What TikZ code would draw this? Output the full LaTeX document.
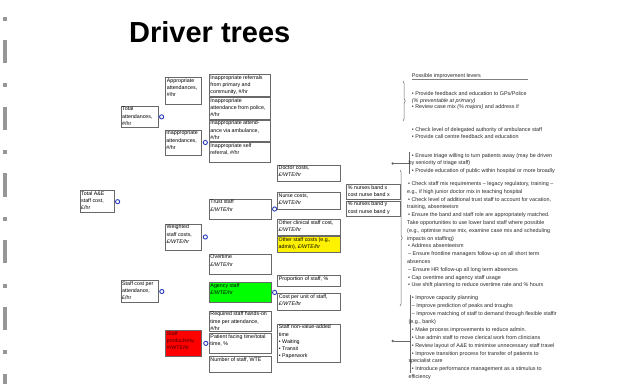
\documentclass[tikz,border=0pt]{standalone}
\usepackage{fontspec}
\setmainfont{Liberation Sans}
\usetikzlibrary{fit,calc,decorations.pathreplacing}
\pgfdeclarelayer{bg}
\pgfsetlayers{bg,main}
\definecolor{bord}{RGB}{105,105,105}
\definecolor{conn}{RGB}{105,105,105}
\definecolor{circ}{RGB}{40,60,190}
\definecolor{mark}{RGB}{150,150,150}
\definecolor{dred}{RGB}{70,0,0}
\definecolor{levtxt}{RGB}{40,40,40}
\newcommand\uw{\textit{£/WTE/hr}}
\newcommand\tb[8]{%
  \node[box, fill=#6, fit={(#2,#3) (#4,#5)}] (#1) {};
  \node[btxt, text=#7] (#1t) at ($(#1.north west)+(1.3,1.2)$) {#8};}
\newcommand\lv[4]{\node[lev] (#1) at (#2,#3) {#4};}
\tikzset{
  box/.style={draw=bord, line width=0.65pt, inner sep=0pt},
  btxt/.style={inner sep=0pt, anchor=north west, align=left, font=\fontsize{5.3}{7.1}\selectfont},
  cn/.style={draw=conn, line width=0.55pt},
  jn/.style={circle, draw=circ, line width=0.9pt, fill=white, minimum size=4.2pt, inner sep=0pt},
  lev/.style={inner sep=0pt, anchor=west, text=levtxt, font=\fontsize{5.4}{6}\selectfont, text height=3.8pt, text depth=1pt},
  mk/.style={fill=mark, draw=none},
  dotg/.style={circle, fill=conn, minimum size=2.8pt, inner sep=0pt},
  brc/.style={cn, decorate, decoration={brace, amplitude=2.2pt}},
}
\begin{document}
\begin{tikzpicture}[x=1pt,y=-1pt]
\useasboundingbox (0,0) rectangle (618,383);
\fill[white] (0,0) rectangle (618,383);
% slide bullets at left
\foreach \k in {0,...,5} {
  \fill[mk] (3.3,{16.7+66.7*\k}) rectangle (7.3,{20.7+66.7*\k});
  \fill[mk] (3.3,{40+66.7*\k}) rectangle (7.3,{63.3+66.7*\k});
}
% title
\node[anchor=base west, inner sep=0pt, font=\fontsize{29}{30}\selectfont\bfseries] (title) at (129,42.5) {Driver trees};
% boxes
\tb{root}{80}{190.7}{114}{212.7}{white}{black}{Total A\&E\\staff cost,\\£/hr}
\tb{tat}{121}{106}{158.3}{127.7}{white}{black}{Total\\attendances,\\\#/hr}
\tb{scp}{121}{280.7}{158.5}{302.3}{white}{black}{Staff cost per\\attendance,\\£/hr}
\tb{app}{165.7}{77.3}{201.7}{104.3}{white}{black}{Appropriate\\attendances,\\\#/hr}
\tb{inapp}{165.3}{130}{201.7}{155}{white}{black}{Inappropriate\\attendances,\\\#/hr}
\tb{wsc}{165.5}{224}{201.7}{250}{white}{black}{Weighted\\staff costs,\\\uw}
\tb{prod}{165.7}{330.7}{201.7}{356}{red}{dred}{Staff\\productivity,\\\#/WTE/hr}
\tb{ref}{209.3}{74.7}{270.7}{96.7}{white}{black}{Inappropriate referrals\\from primary and\\community, \#/hr}
\tb{pol}{209.3}{97.3}{270.7}{119}{white}{black}{Inappropriate\\attendance from police,\\\#/hr}
\tb{amb}{209.3}{120}{270.7}{141.7}{white}{black}{Inappropriate attend-\\ance via ambulance,\\\#/hr}
\tb{self}{209.3}{142.7}{270.7}{162.7}{white}{black}{Inappropriate self\\referral, \#/hr}
\tb{trust}{209.3}{199}{271}{219}{white}{black}{Trust staff\\\uw}
\tb{ovt}{209.3}{254}{271}{274}{white}{black}{Overtime\\\uw}
\tb{agy}{209.3}{282.3}{271}{302.5}{green}{black}{Agency staff\\\uw}
\tb{req}{209.3}{311}{271}{331}{white}{black}{Required staff hands-on\\time per attendance,\\\#/hr}
\tb{pat}{209.3}{333.3}{271}{353.3}{white}{black}{Patient facing time/total\\time, \%}
\tb{num}{209.3}{356.7}{271}{372.3}{white}{black}{Number of staff, WTE}
\tb{doc}{277.5}{165}{340}{181}{white}{black}{Doctor costs,\\\uw}
\tb{nur}{277.5}{192.7}{340}{209.3}{white}{black}{Nurse costs,\\\uw}
\tb{ocl}{277.5}{219.3}{340}{235}{white}{black}{Other clinical staff cost,\\\uw}
\tb{ost}{277.5}{236.7}{340}{252.3}{yellow}{black}{Other staff costs (e.g.,\\admin), \uw}
\tb{prop}{277.7}{275.7}{340}{286.7}{white}{black}{Proportion of staff, \%}
\tb{cpu}{277.7}{293.3}{340}{310}{white}{black}{Cost per unit of staff,\\\uw}
\tb{nva}{277.7}{324}{340}{362.7}{white}{black}{Staff non-value-added\\time\\• Waiting\\• Transit\\• Paperwork}
\tb{bx}{346.7}{184.3}{400.7}{199.3}{white}{black}{\% nurses band x\\cost nurse band x}
\tb{by}{346.7}{201}{400.7}{216}{white}{black}{\% nurses band y\\cost nurse band y}
% junctions
\node[jn] (j0) at ($(root.east)+(3.3,0)$) {};
\node[jn] (j1) at ($(tat.east)+(3,0)$) {};
\node[jn] (j2) at ($(inapp.east)+(3.3,0)$) {};
\node[jn] (j3) at ($(scp.east)+(3,0)$) {};
\node[jn] (j4) at ($(wsc.east)+(3.3,0)$) {};
\node[jn] (j5) at ($(prod.east)+(3.8,0)$) {};
\node[jn] (j6) at ($(trust.east)+(3.3,0)$) {};
\node[jn] (j7) at ($(agy.east)+(3.3,0)$) {};
\coordinate (db) at ($(doc.east)+(3,0)$);
\coordinate (nb) at ($(nur.east)+(3,0)$);
\begin{pgfonlayer}{bg}
  \draw[cn] (root.east) -- (j0);
  \draw[cn] (j0 |- tat.west) -- (j0 |- scp.west);
  \foreach \c in {tat,scp} \draw[cn] (j0 |- \c.west) -- (\c.west);
  \draw[cn] (tat.east) -- (j1);
  \draw[cn] (j1 |- app.west) -- (j1 |- inapp.west);
  \foreach \c in {app,inapp} \draw[cn] (j1 |- \c.west) -- (\c.west);
  \draw[cn] (inapp.east) -- (j2);
  \draw[cn] (j2 |- ref.west) -- (j2 |- self.west);
  \foreach \c in {ref,pol,amb,self} \draw[cn] (j2 |- \c.west) -- (\c.west);
  \draw[cn] (scp.east) -- (j3);
  \draw[cn] (j3 |- wsc.west) -- (j3 |- prod.west);
  \foreach \c in {wsc,prod} \draw[cn] (j3 |- \c.west) -- (\c.west);
  \draw[cn] (wsc.east) -- (j4);
  \draw[cn] (j4 |- trust.west) -- (j4 |- agy.west);
  \foreach \c in {trust,ovt,agy} \draw[cn] (j4 |- \c.west) -- (\c.west);
  \draw[cn] (prod.east) -- (j5);
  \draw[cn] (j5 |- req.west) -- (j5 |- num.west);
  \foreach \c in {req,pat,num} \draw[cn] (j5 |- \c.west) -- (\c.west);
  \draw[cn] (trust.east) -- (j6);
  \draw[cn] (j6 |- doc.west) -- (j6 |- ost.west);
  \foreach \c in {doc,nur,ocl,ost} \draw[cn] (j6 |- \c.west) -- (\c.west);
  \draw[cn] (agy.east) -- (j7);
  \draw[cn] (j7 |- prop.west) -- (j7 |- cpu.west);
  \foreach \c in {prop,cpu} \draw[cn] (j7 |- \c.west) -- (\c.west);
  % doctor bracket with dotted leaders
  \draw[cn] (doc.east) -- (db);
  \draw[cn] ($(db)+(3,-4.5)$) -- ($(db)+(0,-4.5)$) -- ($(db)+(0,6.5)$) -- ($(db)+(3,6.5)$);
  \draw[draw=gray, line width=0.5pt, dash pattern=on 0.6pt off 1.4pt] ($(db)+(5,-4.5)$) -- ++(19,0);
  \draw[draw=gray, line width=0.5pt, dash pattern=on 0.6pt off 1.4pt] ($(db)+(5,6.5)$) -- ++(19,0);
  % nurse bracket
  \draw[cn] (nur.east) -- (nb);
  \draw[cn] (nb |- bx.west) -- (nb |- by.west);
  \foreach \c in {bx,by} \draw[cn] (nb |- \c.west) -- (\c.west);
  % patient facing to non-value-added
  \draw[cn] (pat.east) -- (nva.west);
\end{pgfonlayer}
% improvement levers
\lv{hdr}{411.7}{76}{Possible improvement levers}
\draw[draw=gray, line width=0.8pt] (hdr.south west) ++(0,1.2) -- ++(116.5,0);
\draw[brc] (403,81) -- (403,121);
\lv{a1}{411.7}{94}{• Provide feedback and education to GPs/Police}
\lv{a2}{411.7}{101}{\textit{(\% preventable at primary)}}
\lv{a3}{411.7}{107.5}{• Review case mix \textit{(\% majors)} and address if}
\lv{b1}{411.7}{130.5}{• Check level of delegated authority of ambulance staff}
\lv{b2}{411.7}{137.5}{• Provide call centre feedback and education}
\node[dotg] (d1) at (392.7,163.5) {};
\coordinate (k1) at (409.5,163.5);
\draw[cn] (d1) -- (k1);
\draw[cn] (k1 |- 0,152) -- (k1 |- 0,174);
\lv{c1}{411.7}{156}{• Ensure triage willing to turn patients away (may be driven}
\lv{c2}{408.3}{163.5}{by seniority of triage staff)}
\lv{c3}{411.7}{171}{• Provide education of public within hospital or more broadly}
\draw[brc] (400,170) -- (400,306);
\lv{e1}{408}{184}{• Check staff mix requirements – legacy regulatory, training –}
\lv{e2}{407}{191.8}{e.g., if high junior doctor mix in teaching hospital}
\lv{e3}{408}{199.6}{• Check level of additional trust staff to account for vacation,}
\lv{e4}{407}{207.4}{training, absenteeism}
\lv{e5}{408}{215.2}{• Ensure the band and staff role are appropriately matched.}
\lv{e6}{407}{223}{Take opportunities to use lower band staff where possible}
\lv{e7}{407}{230.8}{(e.g., optimise nurse mix, examine case mix and scheduling}
\lv{e8}{407}{238.6}{impacts on staffing)}
\lv{e9}{408}{246.4}{• Address absenteeism}
\lv{e10}{408}{254.2}{– Ensure frontline managers follow-up on all short term}
\lv{e11}{407}{262}{absences}
\lv{e12}{408}{269.8}{– Ensure HR follow-up all long term absences}
\lv{e13}{408}{277.6}{• Cap overtime and agency staff usage}
\lv{e14}{408}{285.4}{• Use shift planning to reduce overtime rate and \% hours}
\node[dotg] (d2) at (392.7,341) {};
\coordinate (k2) at (410,341);
\draw[cn] (d2) -- (k2);
\draw[cn] (k2 |- 0,295) -- (k2 |- 0,373);
\lv{f1}{411.7}{298.3}{• Improve capacity planning}
\lv{f2}{411.7}{306.2}{– Improve prediction of peaks and troughs}
\lv{f3}{411.7}{314.1}{– Improve matching of staff to demand through flexible staffir}
\lv{f4}{408.3}{322}{(e.g., bank)}
\lv{f5}{411.7}{329.9}{• Make process improvements to reduce admin.}
\lv{f6}{411.7}{337.8}{• Use admin staff to move clerical work from clinicians}
\lv{f7}{411.7}{345.7}{• Review layout of A\&E to minimise unnecessary staff travel}
\lv{f8}{411.7}{353.6}{• Improve transition process for transfer of patients to}
\lv{f9}{408.3}{361.5}{specialist care}
\lv{f10}{411.7}{369.4}{• Introduce performance management as a stimulus to}
\lv{f11}{408.3}{377.3}{efficiency}
\end{tikzpicture}
\end{document}
